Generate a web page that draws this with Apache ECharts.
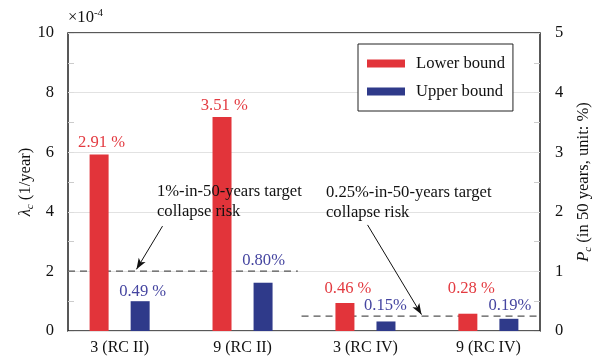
<!DOCTYPE html>
<html>
<head>
<meta charset="utf-8">
<script src="https://cdn.jsdelivr.net/npm/echarts@6/dist/echarts.min.js"></script>
<style>
  html, body { margin: 0; padding: 0; background: #fff; }
  #chart { width: 595px; height: 359px; }
</style>
</head>
<body>
<div id="chart"></div>
<script>
// Building cases along the x axis
const categories = ['3 (RC II)', '9 (RC II)', '3 (RC IV)', '9 (RC IV)'];
const casePositions = [1, 2, 3, 4];

// Mean annual collapse frequency, lambda_c (x10^-4 per year)
const lowerLambda = [5.92, 7.18, 0.94, 0.58];
const upperLambda = [1.00, 1.62, 0.32, 0.41];

// Collapse probability in 50 years printed above each bar
const lowerLabels = ['2.91 %', '3.51 %', '0.46 %', '0.28 %'];
const upperLabels = ['0.49 %', '0.80%', '0.15%', '0.19%'];

// Target collapse-risk levels (lambda, x10^-4) and their x extents
const targetLevels = [2.01, 0.50];
const targetFrom = [0.58, 2.48];
const targetTo = [2.45, 4.42];
const targetTexts = ['1%-in-50-years target\ncollapse risk', '0.25%-in-50-years target\ncollapse risk'];

// Axis ticks
const leftTicks = [0, 2, 4, 6, 8, 10];
const rightTicks = [0, 1, 2, 3, 4, 5];

// Arrow annotations in data space: [x0, y0, x1, y1]
const arrows = [
  [1.516, 3.52, 1.304, 2.07],
  [3.184, 3.56, 3.623, 0.55]
];

// Small nudges of the value labels, in pixels
const lowerLabelOffsets = [[2.5, 2], [2.3, 2], [3, -1], [3.5, -12]];
const upperLabelOffsets = [[2.5, 4], [0.5, -9], [-0.5, -2], [1, 0]];

const FONT = '"Liberation Serif", "Times New Roman", serif';
const TEXT_SIZE = 16.6;
const RED = '#E2343A';
const BLUE = '#2F3A8A';
const RED_TXT = '#E33A40';
const BLUE_TXT = '#4545A0';

const chart = echarts.init(document.getElementById('chart'), null, { renderer: 'canvas' });

function barData(values, offsets) {
  return values.map((v, i) => ({
    value: [casePositions[i], v],
    label: { offset: offsets[i] }
  }));
}

const axisNameRich = {
  it: { fontFamily: FONT, fontSize: TEXT_SIZE, fontStyle: 'italic', color: '#111', lineHeight: 20 },
  sub: { fontFamily: FONT, fontSize: 11, fontStyle: 'italic', color: '#111', lineHeight: 12, verticalAlign: 'bottom' },
  n: { fontFamily: FONT, fontSize: TEXT_SIZE, color: '#111', lineHeight: 20 }
};

const option = {
  animation: false,
  backgroundColor: '#fff',
  textStyle: { fontFamily: FONT },
  grid: {
    left: 68, right: 55, top: 33, bottom: 28,
    containLabel: false,
    outerBoundsMode: 'none',
    show: true, borderColor: '#222', borderWidth: 1.5, backgroundColor: 'transparent'
  },
  legend: {
    data: ['Lower bound', 'Upper bound'],
    orient: 'vertical',
    left: 358, top: 44,
    padding: [11, 8, 11, 9],
    itemWidth: 38, itemHeight: 8, itemGap: 11,
    icon: 'rect',
    backgroundColor: '#fff',
    borderColor: '#222', borderWidth: 1,
    textStyle: { fontFamily: FONT, fontSize: TEXT_SIZE, color: '#111', padding: [0, 0, 0, 6] }
  },
  xAxis: {
    type: 'value',
    min: 0.58, max: 4.42,
    axisLine: { show: false },
    axisTick: { show: false },
    splitLine: { show: false },
    axisLabel: {
      customValues: casePositions,
      formatter: (v) => categories[casePositions.indexOf(Math.round(v))] || '',
      fontFamily: FONT, fontSize: 16, color: '#111', margin: 9
    }
  },
  yAxis: [
    {
      type: 'value', min: 0, max: 10, interval: 2,
      position: 'left',
      name: '{it|λ}{sub|c}{n| (1/year)}',
      nameLocation: 'middle', nameGap: 32, nameRotate: 90,
      nameMoveOverlap: false,
      nameTextStyle: { rich: axisNameRich },
      axisLine: { show: false },
      axisTick: { show: true, inside: true, length: 6, lineStyle: { color: '#ddd' } },
      minorTick: { show: true, splitNumber: 2, length: 6, lineStyle: { color: '#ccc' } },
      splitLine: { show: true, lineStyle: { color: '#e2e2e2', width: 1 } },
      axisLabel: {
        customValues: leftTicks,
        fontFamily: FONT, fontSize: 16.5, color: '#111', margin: 14
      }
    },
    {
      type: 'value', min: 0, max: 5, interval: 1,
      position: 'right',
      name: '{it|P}{sub|c}{n| (in 50 years, unit: %)}',
      nameLocation: 'middle', nameGap: 34, nameRotate: 90,
      nameMoveOverlap: false,
      nameTextStyle: { rich: axisNameRich },
      axisLine: { show: false },
      axisTick: { show: true, inside: true, length: 6, lineStyle: { color: '#ddd' } },
      minorTick: { show: true, splitNumber: 2, length: 6, lineStyle: { color: '#ccc' } },
      splitLine: { show: false },
      axisLabel: {
        customValues: rightTicks,
        fontFamily: FONT, fontSize: 16.5, color: '#111', margin: 15
      }
    }
  ],
  series: [
    {
      name: 'target-1pct',
      type: 'line',
      z: 1,
      symbol: 'none',
      silent: true,
      lineStyle: { color: '#555', width: 1.3, type: [7, 5] },
      data: [[targetFrom[0], targetLevels[0]], [targetTo[0], targetLevels[0]]]
    },
    {
      name: 'target-025pct',
      type: 'line',
      z: 1,
      symbol: 'none',
      silent: true,
      lineStyle: { color: '#555', width: 1.3, type: [7, 5] },
      data: [[targetFrom[1], targetLevels[1]], [targetTo[1], targetLevels[1]]]
    },
    {
      name: 'Lower bound',
      type: 'bar',
      z: 10,
      barWidth: 19,
      barGap: '116%',
      itemStyle: { color: RED },
      label: {
        show: true, position: 'top', distance: 5,
        fontFamily: FONT, fontSize: TEXT_SIZE, color: RED_TXT,
        formatter: (p) => lowerLabels[p.dataIndex]
      },
      markLine: {
        silent: true,
        z: 20,
        symbol: ['none', 'arrow'],
        symbolSize: [6, 11],
        label: { show: false },
        itemStyle: { color: '#111' },
        lineStyle: { color: '#111', width: 1, type: 'solid' },
        data: arrows.map(a => [
          { coord: [a[0], a[1]] },
          { coord: [a[2], a[3]] }
        ])
      },
      data: barData(lowerLambda, lowerLabelOffsets)
    },
    {
      name: 'Upper bound',
      type: 'bar',
      z: 10,
      barWidth: 19,
      barGap: '116%',
      itemStyle: { color: BLUE },
      label: {
        show: true, position: 'top', distance: 5,
        fontFamily: FONT, fontSize: TEXT_SIZE, color: BLUE_TXT,
        formatter: (p) => upperLabels[p.dataIndex]
      },
      data: barData(upperLambda, upperLabelOffsets)
    }
  ],
  graphic: [
    {
      type: 'text', left: 68, top: 8, z: 100,
      style: {
        text: '×10{sup|-4}',
        font: TEXT_SIZE + 'px ' + FONT, fill: '#111',
        rich: { sup: { fontSize: 11, fontFamily: FONT, verticalAlign: 'top', lineHeight: 20 } }
      }
    },
    {
      type: 'text', left: 157, top: 182, z: 100,
      style: { text: targetTexts[0], font: TEXT_SIZE + 'px ' + FONT, fill: '#111', lineHeight: 20 }
    },
    {
      type: 'text', left: 326, top: 183, z: 100,
      style: { text: targetTexts[1], font: TEXT_SIZE + 'px ' + FONT, fill: '#111', lineHeight: 20 }
    }
  ]
};

chart.setOption(option);
</script>
</body>
</html>
